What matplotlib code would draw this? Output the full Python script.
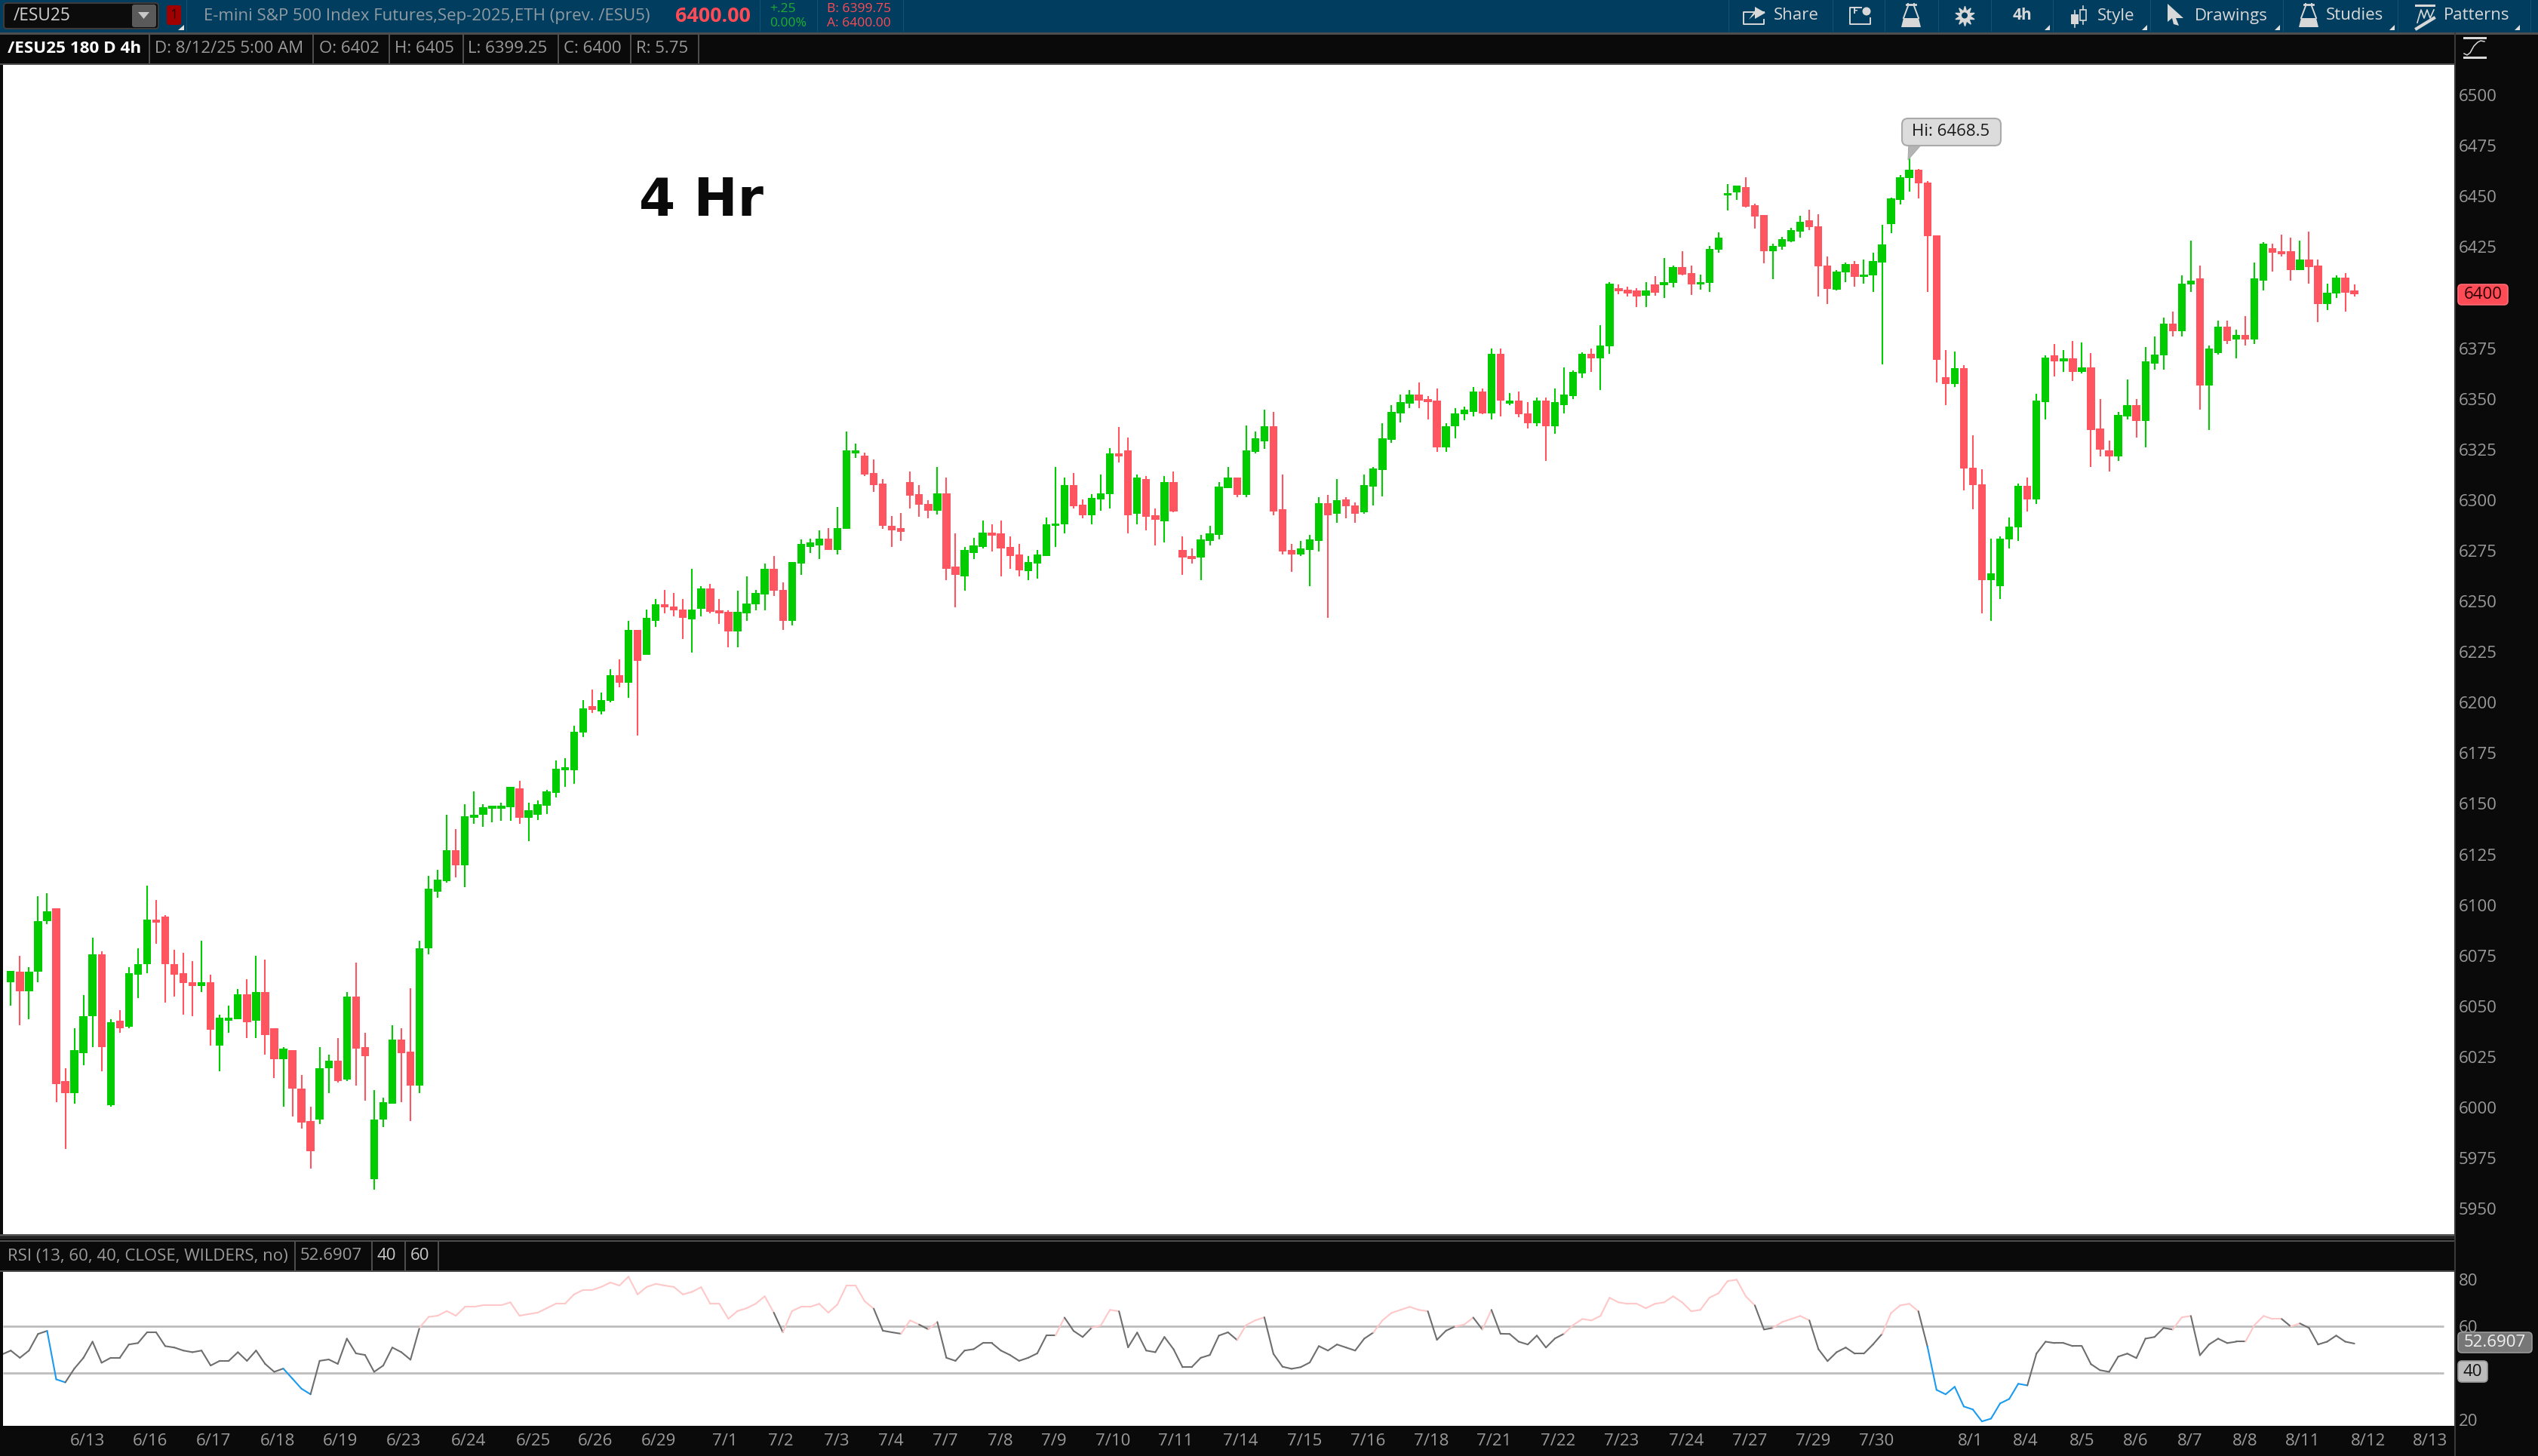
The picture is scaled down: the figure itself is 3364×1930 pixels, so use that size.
import numpy as np
import matplotlib
matplotlib.use("Agg")
import matplotlib.pyplot as plt
from matplotlib.patches import Rectangle, Polygon, FancyBboxPatch, Circle

plt.rcParams['font.family'] = ['Open Sans', 'DejaVu Sans']

W, H = 3364, 1930

opens = [
    6060.5, 6065.75, 6056, 6065.75, 6090.5, 6097, 6011.5, 6005.5, 6025.5, 6043.5,
    6074, 5999.5, 6041.25, 6038.25, 6064.25, 6069.5, 6091.25, 6092.75, 6069.5, 6065,
    6060.5, 6058.5, 6060.5, 6029.25, 6041.25, 6042, 6054.5, 6041.25, 6055.5, 6037.5,
    6022.5, 6027, 6007.75, 5992, 5992.75, 6018, 6021.75, 6012.25, 6053.25, 6028.5,
    5963, 5992.75, 6000.25, 6032.25, 6026.25, 6009.25, 6077, 6105.25, 6110.5, 6125.5,
    6118, 6141.75, 6143.25, 6146.25, 6146.25, 6147, 6156, 6141.75, 6143.25, 6147.75,
    6154, 6165, 6165, 6183.75, 6196.75, 6194, 6199.25, 6212, 6208.25, 6234.25,
    6222.25, 6238.75, 6247, 6246, 6244.5, 6239.5, 6244.75, 6255, 6244, 6243.25,
    6233.5, 6242.5, 6247, 6252, 6264.75, 6254.25, 6238.75, 6267.25, 6275.25, 6276,
    6279.5, 6273.75, 6284.25, 6321.5, 6320.5, 6311.75, 6306.5, 6285.75, 6284.75, 6307.25,
    6301.5, 6296.75, 6293.25, 6302, 6265.5, 6261, 6272.25, 6275.25, 6282.5, 6282,
    6275.25, 6271.5, 6263.5, 6267.25, 6270.75, 6285.75, 6286.5, 6305.75, 6296.25, 6291,
    6299, 6301.5, 6321.5, 6323, 6291.75, 6308.75, 6291, 6288, 6307.25, 6273.75,
    6270.75, 6270, 6278.25, 6281.25, 6304.25, 6309.5, 6301.25, 6322.25, 6327.5, 6335,
    6294, 6273.75, 6271.5, 6273.75, 6278.25, 6297, 6291.75, 6299, 6296, 6292.5,
    6305, 6313.25, 6328.25, 6341.5, 6346, 6350.5, 6348.25, 6347.5, 6324.5, 6335,
    6341, 6342.25, 6352, 6341.5, 6370.75, 6346, 6347.5, 6341.5, 6336.5, 6347.5,
    6335, 6345.25, 6349.75, 6361, 6370.75, 6368.5, 6374.5, 6403, 6402.5, 6402,
    6399.5, 6405, 6404.5, 6405.75, 6413.75, 6410.75, 6405, 6405.75, 6422, 6449,
    6450.5, 6453, 6444.25, 6439.25, 6421.25, 6423.5, 6426.25, 6431, 6436.75, 6433.75,
    6414.5, 6402.25, 6411, 6415, 6408.75, 6409.5, 6416, 6434.75, 6446.75, 6457.5,
    6461.5, 6455.25, 6429.25, 6359.25, 6355.75, 6363.75, 6314.5, 6306.25, 6259, 6256,
    6279, 6285, 6305.5, 6299, 6346.75, 6370, 6367, 6368.5, 6361.75, 6364,
    6334, 6323, 6320, 6340, 6345.25, 6337.75, 6366, 6370, 6385.5, 6381.75,
    6405, 6408, 6355, 6371.25, 6384, 6378, 6380.25, 6378, 6407, 6422.75,
    6421.25, 6421.25, 6412.25, 6417.5, 6414.5, 6395.25, 6400.5, 6408.5, 6402,
]
highs = [
    6066, 6073.25, 6068, 6103, 6104.5, 6097, 6018, 6037.5, 6054, 6082.25,
    6075.5, 6042, 6046.5, 6068, 6077, 6108.25, 6101, 6093.5, 6076.25, 6074.75,
    6071, 6080.75, 6064.25, 6044.25, 6048.75, 6057, 6062, 6073.25, 6071.75, 6037.5,
    6028.5, 6027, 6014.5, 5998.75, 6028.5, 6024.75, 6033, 6055.5, 6070.25, 6035.25,
    6007, 6003.25, 6039, 6037.5, 6057.5, 6080.75, 6112.75, 6115.75, 6143.25, 6136,
    6148.5, 6154.5, 6148.5, 6147.75, 6149.25, 6156.75, 6159.75, 6149.25, 6150, 6155.25,
    6170, 6171, 6187, 6199.75, 6205, 6203.5, 6215, 6220, 6238.75, 6234.25,
    6244.5, 6249.75, 6254.25, 6252.75, 6249.75, 6264.75, 6256, 6257.25, 6249.75, 6244,
    6253.75, 6261, 6254.25, 6267, 6270.75, 6258, 6267.75, 6279, 6279.5, 6283.5,
    6284.75, 6295.25, 6332.5, 6326.5, 6322, 6318.5, 6308.75, 6290.75, 6292.25, 6312.5,
    6305.75, 6298.5, 6314.75, 6309.5, 6282, 6275.25, 6279.75, 6288.5, 6286.5, 6288.5,
    6280.5, 6276.75, 6270.75, 6273.75, 6290, 6314.75, 6309.5, 6311.75, 6299, 6301.5,
    6311, 6324.25, 6334.75, 6329.5, 6311, 6310.25, 6294.5, 6310.25, 6312.5, 6280.5,
    6274.5, 6281.25, 6285.75, 6307.25, 6314.75, 6309.5, 6335.5, 6332.5, 6343, 6342.25,
    6311, 6276.75, 6278.25, 6281.25, 6300, 6301.25, 6308.75, 6300, 6297.5, 6311,
    6314.75, 6336.5, 6345.25, 6350.5, 6352.75, 6356.5, 6349.75, 6353.5, 6336.5, 6343.75,
    6344.5, 6354.25, 6353.5, 6373.5, 6373.5, 6351.25, 6352, 6346.75, 6349, 6349,
    6353.5, 6364, 6362.5, 6371.5, 6373.5, 6384.75, 6406, 6405, 6404, 6403,
    6406, 6409, 6418.25, 6414.5, 6421.25, 6414.5, 6410, 6424, 6430.75, 6454.5,
    6454, 6457.75, 6445, 6439.25, 6425, 6428.5, 6433, 6439, 6442, 6439.75,
    6418.75, 6412.25, 6416, 6416.5, 6417.25, 6420.5, 6434.5, 6448, 6459, 6468.5,
    6462, 6456, 6429.25, 6372.75, 6372, 6365.25, 6330.5, 6313.75, 6279.5, 6280.75,
    6290, 6306.5, 6309.5, 6351, 6370, 6375.75, 6372.75, 6377.25, 6376.5, 6371.25,
    6348.25, 6328, 6342.25, 6358, 6348.25, 6374.25, 6379.5, 6388.5, 6391.5, 6409.5,
    6426.5, 6414.5, 6375, 6387, 6387, 6382.5, 6389.25, 6416, 6425.75, 6425,
    6429.5, 6428, 6426.5, 6431, 6417.5, 6405.5, 6409.5, 6410.75, 6405,
]
lows = [
    6048.75, 6039, 6042, 6060.5, 6089, 6001, 5978, 6000.25, 6019.5, 6028.5,
    6016.5, 5998.75, 6035.25, 6037.5, 6052.5, 6065, 6079.25, 6050.25, 6053.25, 6044.25,
    6043.5, 6055.5, 6029.25, 6016.5, 6035.25, 6042, 6033, 6033, 6024.75, 6013,
    5998.75, 5994.25, 5988.25, 5968.25, 5990.5, 6005.5, 6010.75, 6011.5, 6009.25, 6001.75,
    5957.75, 5989, 6000.25, 6001, 5992, 6005.5, 6074, 6102.25, 6109.75, 6112,
    6107.5, 6138.75, 6137.25, 6139.5, 6140.25, 6140.25, 6138.75, 6130, 6140.5, 6143.5,
    6151.5, 6156.75, 6158.25, 6181.5, 6193.25, 6192.5, 6198.5, 6206, 6200.75, 6182.25,
    6222.25, 6235.75, 6242.5, 6241, 6229.75, 6223.25, 6241, 6242.5, 6237.25, 6226,
    6226, 6238.75, 6244, 6244, 6251.25, 6234.5, 6236.5, 6261.75, 6272.25, 6269.5,
    6273.75, 6271.5, 6284.25, 6319.25, 6310.25, 6302.75, 6284.25, 6275.25, 6278.25, 6294.5,
    6290.25, 6289.5, 6291.5, 6259, 6245.5, 6253.75, 6269.5, 6274.5, 6273, 6261,
    6264.75, 6261, 6259, 6259.75, 6270.75, 6275.25, 6282, 6294.5, 6289.5, 6286.5,
    6293.25, 6294.5, 6317, 6282, 6286.5, 6283.5, 6276, 6277.5, 6292.5, 6261.75,
    6267, 6259, 6276, 6279, 6304.25, 6300, 6300, 6321.5, 6323.75, 6291,
    6271.5, 6263.25, 6270.75, 6256, 6273, 6240.25, 6287.25, 6289.5, 6287.25, 6291.75,
    6296, 6300.5, 6326.75, 6337, 6343.75, 6343.75, 6338.5, 6322.25, 6322.25, 6329,
    6338, 6340, 6341, 6338.5, 6340, 6345.25, 6339.5, 6334, 6335, 6317.75,
    6331.25, 6341.5, 6348.25, 6358.75, 6361.75, 6352.75, 6370.75, 6400, 6399, 6394,
    6394, 6399.5, 6398.5, 6403.5, 6409.5, 6399.75, 6402.5, 6401.25, 6420.5, 6441.5,
    6446.75, 6443, 6432.5, 6415.5, 6407.75, 6422, 6425.75, 6428, 6431.75, 6399,
    6395.25, 6402, 6406.25, 6404, 6405.5, 6401.25, 6365.5, 6430.5, 6444.5, 6451,
    6447.5, 6401.25, 6356.5, 6345.5, 6354.25, 6303.5, 6294, 6242.5, 6238.75, 6249.75,
    6274.5, 6278.25, 6293, 6296.75, 6338.5, 6359.5, 6361.75, 6357.25, 6361, 6314.75,
    6320, 6312.5, 6317.75, 6338.5, 6329.5, 6324.5, 6363, 6363, 6379.5, 6379.5,
    6401.25, 6343, 6333.25, 6370.5, 6375.75, 6368.5, 6375, 6375.75, 6402, 6411.5,
    6419, 6407, 6412.25, 6405.5, 6386.25, 6392.25, 6398.25, 6391.5, 6399.25,
]
closes = [
    6066, 6056, 6065.75, 6090.5, 6095.5, 6010, 6005.5, 6027, 6043.5, 6074,
    6028.5, 6040.5, 6037.5, 6065, 6069.5, 6091.25, 6089.75, 6069.5, 6064.25, 6060,
    6058.5, 6060.5, 6036.75, 6042.75, 6042.75, 6054.5, 6040.5, 6055.5, 6034.5, 6022.5,
    6027.75, 6007.75, 5991.25, 5977, 6018, 6021.75, 6011.5, 6053.25, 6027.75, 6024,
    5992.75, 6001, 6032.25, 6025.5, 6009.25, 6077, 6106.75, 6111.25, 6125.5, 6118,
    6142.5, 6143.25, 6147, 6147.75, 6147.75, 6156.75, 6141.75, 6145.5, 6148.5, 6154.5,
    6165.75, 6166.5, 6184.25, 6195.5, 6194.75, 6199.75, 6212, 6208.25, 6234.25, 6219.25,
    6240.25, 6247, 6245.5, 6244, 6240.25, 6244.5, 6255, 6243.25, 6242.5, 6233.5,
    6243.25, 6247.5, 6252.75, 6264.75, 6253.75, 6238.75, 6267.75, 6276.75, 6277.5, 6279.5,
    6273.75, 6284.75, 6323, 6323, 6311, 6305.75, 6285.75, 6283.5, 6282.75, 6300.75,
    6296.25, 6293.25, 6302, 6264.75, 6261.75, 6273.75, 6276, 6282.5, 6281, 6274.5,
    6270.75, 6264, 6267.75, 6271.5, 6286.5, 6287, 6305.75, 6295.5, 6291, 6299.75,
    6302, 6321.5, 6320, 6291, 6309.5, 6290.25, 6288.75, 6307.25, 6293, 6270,
    6269.25, 6279, 6282, 6305, 6309.5, 6301.25, 6323, 6329, 6335, 6293,
    6273, 6271.5, 6274.5, 6279, 6297, 6291, 6298.5, 6295.5, 6291.75, 6305.75,
    6314, 6329, 6342.25, 6346.75, 6350.5, 6347.5, 6346.75, 6324.5, 6335, 6341.5,
    6343, 6352, 6341.5, 6370.75, 6347.5, 6347.5, 6341, 6336.5, 6347.5, 6335,
    6346.75, 6350.5, 6361.75, 6370.75, 6368.5, 6375, 6405.5, 6401.5, 6400.5, 6399,
    6402, 6401, 6406.25, 6413.75, 6410, 6405, 6406.25, 6422.5, 6428, 6450.25,
    6454, 6443.5, 6438.5, 6421.25, 6424, 6427.25, 6431.75, 6436, 6433.25, 6414,
    6402.75, 6411.5, 6415, 6408.75, 6410, 6416.5, 6424.75, 6447.5, 6457.75, 6461.5,
    6455, 6428.75, 6367.75, 6355.75, 6363.75, 6314, 6306, 6259, 6262.25, 6279.5,
    6285.5, 6305.5, 6299, 6347.5, 6369, 6367, 6368.5, 6361.75, 6364, 6333.25,
    6323.5, 6320, 6340.75, 6345.25, 6337.75, 6367, 6370.5, 6385.5, 6381.75, 6405.5,
    6407, 6355, 6373.5, 6384, 6377.25, 6380.25, 6378, 6408, 6425, 6420.5,
    6419.75, 6412.25, 6417.5, 6413.75, 6395.25, 6401, 6408.5, 6401, 6400,
]

# starts one bar before the first candle, that point is off the left edge
rsi = [
    48, 49.7, 46.6, 49.7, 56.8, 58.1, 37.4, 36.1, 42, 46.6, 53.5,
    44.5, 46.6, 46.6, 52.3, 52.9, 57.5, 57.5, 51.6, 51, 49.7,
    49, 49.7, 43.3, 45.3, 45.3, 49, 45.3, 49.7, 44, 40.6,
    42, 37.7, 33.4, 31, 45.3, 45.9, 44, 54.8, 48.5, 47.8,
    40.6, 43.3, 51, 49, 45.8, 59.5, 64.1, 64.6, 66.6, 64.6,
    68.4, 68.4, 69.1, 69.1, 69.1, 70.3, 64.6, 65.3, 65.9, 67.8,
    69.7, 69.7, 73.7, 75.6, 75.6, 76.9, 78.8, 77.5, 81.3, 73.7,
    76.9, 78.2, 77.5, 76.9, 73.7, 74.8, 76.8, 69.7, 69.7, 63.3,
    66.6, 67.8, 69.7, 72.9, 65.9, 57.5, 66.6, 68.4, 68.4, 69.7,
    65.9, 69.4, 77.5, 77.5, 70.8, 67.6, 58.2, 57.5, 56.9, 62.6,
    60.8, 58.8, 61.9, 46.6, 45.3, 49.7, 50.3, 52.9, 52.9, 49.7,
    47.8, 45.3, 46.6, 48.5, 56.1, 56.1, 63.8, 58.1, 55.5, 59.5,
    60.4, 67.1, 66.5, 51.1, 57.4, 49.7, 49, 55.5, 50.3, 42.6,
    42.6, 46.6, 47.8, 56.1, 57.5, 54.2, 60.6, 62.6, 63.9, 48.3,
    42.8, 41.9, 42.6, 44.6, 51.6, 49.7, 52.3, 51, 49.7, 54.8,
    57.4, 62.6, 65.8, 67.1, 68.4, 67.1, 66.5, 54.3, 58.2, 60,
    60.8, 63.8, 58.7, 67.1, 56.9, 56.8, 53.5, 52.3, 56.1, 51,
    54.9, 56.9, 60.6, 63.2, 62.6, 64.5, 72.3, 70.3, 69.7, 69.7,
    67.8, 69.7, 70.3, 72.9, 70.3, 66.5, 67.1, 72.3, 74.2, 79.4,
    80, 72.9, 69, 58.7, 59.4, 61.9, 63.2, 64.5, 62.6, 50.3,
    45.2, 49, 51, 48.4, 48.4, 52.3, 56.8, 65.8, 69, 69.7,
    66.5, 51.4, 32.9, 31, 34.2, 25.8, 24.5, 19.4, 20.6, 27.1,
    29, 35.5, 34.8, 48.4, 53.5, 52.9, 52.9, 51.6, 51.6, 43.9,
    41.3, 40.6, 47.1, 48.4, 46.5, 54.8, 55.5, 59.4, 58.7, 63.9,
    64.5, 47.7, 52.3, 54.8, 52.9, 53.5, 53.5, 60.6, 64.5, 63.2,
    63.2, 60, 61.3, 59.4, 52.3, 53.5, 56.1, 53.5, 52.6907,
]

date_labels = [
    '6/13', '6/16', '6/17', '6/18', '6/19', '6/23', '6/24', '6/25', '6/26', '6/29',
    '7/1', '7/2', '7/3', '7/4', '7/7', '7/8', '7/9', '7/10', '7/11', '7/14',
    '7/15', '7/16', '7/18', '7/21', '7/22', '7/23', '7/24', '7/27', '7/29', '7/30',
    '8/1', '8/4', '8/5', '8/6', '8/7', '8/8', '8/11', '8/12', '8/13',
]
date_pos = [
    8.45, 15.3, 22.3, 29.4, 36.3, 43.2, 50.4, 57.5, 64.3, 71.3,
    78.6, 84.8, 90.9, 96.9, 102.9, 108.9, 114.8, 121.3, 128.2, 135.4,
    142.4, 149.4, 156.4, 163.3, 170.3, 177.3, 184.5, 191.4, 198.4, 205.4,
    215.7, 221.8, 228, 233.9, 239.9, 246, 252.3, 259.5, 266.3,
]
price_ticks = [p for p in range(5950, 6525, 25) if p != 6400]
rsi_ticks = [20, 60, 80]

GREEN = '#00cc00'
RED = '#ff5560'
GREY_TXT = '#9a9a9a'
TOOLBAR = '#003d5e'
BLACK = '#0a0a0a'
EDGE = '#4d4d4d'
ICON = '#d8d8d8'
FS = 16

# pixel position of a candle index on the screen
BAR0, BAR_STEP = 14.3, 12.04
XLIM = ((4 - BAR0) / BAR_STEP, (3253 - BAR0) / BAR_STEP)


def px_axes(x0, y0, x1, y1):
    return fig.add_axes([x0 / W, 1 - y1 / H, (x1 - x0) / W, (y1 - y0) / H])


def screen_axes(z):
    a = fig.add_axes([0, 0, 1, 1], zorder=z)
    a.set_xlim(0, W)
    a.set_ylim(H, 0)
    a.axis('off')
    a.patch.set_alpha(0)
    return a


fig = plt.figure(figsize=(W / 100, H / 100), dpi=100, facecolor=BLACK)

# chrome in screen pixels, ui under the panels and top over them
ui = screen_axes(0)
top = screen_axes(5)


def box(x0, y0, x1, y1, color, z=1):
    ui.add_patch(Rectangle((x0, y0), x1 - x0, y1 - y0, fc=color, ec='none', zorder=z))


def label(x, y, s, color=GREY_TXT, size=FS, weight='normal', ha='left'):
    ui.text(x, y, s, color=color, fontsize=size, fontweight=weight, ha=ha, va='center')


def badge(x0, y0, x1, y1, s, fc, ec, color):
    top.add_patch(FancyBboxPatch((x0 + 4, y0 + 4), x1 - x0 - 8, y1 - y0 - 8,
                                 boxstyle='round,pad=4,rounding_size=5', fc=fc, ec=ec, lw=1.2))
    top.text((x0 + x1) / 2, (y0 + y1) / 2, s, color=color, fontsize=FS, ha='center', va='center')


box(0, 0, W, 43, TOOLBAR)
box(0, 43, W, 46, EDGE)
box(0, 84, 3253, 86, EDGE)
for x in [247, 1007, 1083, 1197, 2291, 2429, 2498, 2569, 2639, 2721, 2850, 3026, 3178, 3354]:
    box(x, 0, x + 1, 42, '#0f5473', 2)

# symbol box
ui.add_patch(FancyBboxPatch((5, 4), 205, 34, boxstyle='round,pad=0,rounding_size=4',
                            fc='#0c0c0c', ec='#3c3c3c', lw=1.5, zorder=2))
ui.add_patch(FancyBboxPatch((175, 6), 32, 30, boxstyle='round,pad=0,rounding_size=3',
                            fc='#5a5a5a', ec='none', zorder=3))
ui.add_patch(Polygon([[183, 16], [198, 16], [190.5, 25]], fc='#c8c8c8', zorder=4))
label(18, 21, '/ESU25', '#d0d0d0', 16.3)
ui.add_patch(FancyBboxPatch((221, 7), 19, 26, boxstyle='round,pad=0,rounding_size=3',
                            fc='#a00000', ec='none', zorder=2))
label(230.5, 20, '1', '#300000', 13, ha='center')
ui.add_patch(Polygon([[236, 40], [244, 40], [244, 33]], fc='#e0e0e0', zorder=2))
label(270, 21, 'E-mini S&P 500 Index Futures,Sep-2025,ETH (prev. /ESU5)', '#8f9aa2', FS)
label(895, 22, '6400.00', '#ff4b55', 19.4, 'bold')
label(1020, 12, '+.25', '#1fae2f', 12.6)
label(1020, 31, '0.00%', '#1fae2f', 12.6)
label(1096, 12, 'B: 6399.75', '#ff4b55', 12.6)
label(1096, 31, 'A: 6400.00', '#ff4b55', 12.6)

# right hand buttons
for x, s in [(2351, 'Share'), (2780, 'Style'), (2909, 'Drawings'), (3083, 'Studies'), (3239, 'Patterns')]:
    label(x, 21, s, ICON, FS)
label(2668, 21, '4h', ICON, 15, 'bold')
for x in [2716, 2845, 3021, 3173, 3339]:
    ui.add_patch(Polygon([[x - 6, 40], [x + 1, 40], [x + 1, 33]], fc='#e0e0e0', zorder=2))
# share
ui.plot([2338, 2311, 2311, 2338, 2338], [16, 16, 32, 32, 26], color=ICON, lw=1.4)
ui.add_patch(Polygon([[2318, 26], [2326, 14], [2326, 9], [2340, 17], [2326, 25], [2326, 19]], fc=ICON))
# news
ui.plot([2467, 2452, 2452, 2479, 2479], [10, 10, 32, 32, 24], color=ICON, lw=1.4)
ui.add_patch(Circle((2474, 15), 5.5, fc=ICON))
label(2456, 15, 'F', ICON, 9, 'bold')
# flasks
for cx in [2533, 3060]:
    ui.add_patch(Polygon([[cx - 13, 36], [cx + 13, 36], [cx + 10, 24], [cx - 10, 24]], fc=ICON))
    ui.plot([cx - 10, cx - 4, cx - 4], [24, 8, 5], color=ICON, lw=1.4)
    ui.plot([cx + 10, cx + 4, cx + 4], [24, 8, 5], color=ICON, lw=1.4)
    ui.plot([cx - 6, cx + 6], [6, 6], color=ICON, lw=2)
# gear
ui.plot([2604], [20.5], marker=(10, 1, 0), ms=19, mfc=ICON, mec=ICON, ls='none')
ui.add_patch(Circle((2604, 20.5), 4, fc=TOOLBAR, zorder=4))
# style candles
ui.plot([2750, 2750], [14, 36], color=ICON, lw=1.2)
ui.plot([2761, 2761], [8, 32], color=ICON, lw=1.2)
box(2745, 19, 2755, 32, ICON, 3)
ui.add_patch(Rectangle((2757, 13), 8, 14, fc=TOOLBAR, ec=ICON, lw=1.2, zorder=3))
# drawings arrow
ui.add_patch(Polygon([[2873, 5], [2894, 24], [2884, 24], [2888, 34], [2881, 32], [2879, 24], [2873, 29]], fc=ICON))
# patterns
box(3201, 6, 3228, 9, ICON)
ui.plot([3204, 3209, 3213, 3217, 3221, 3226], [30, 13, 24, 13, 24, 13], color=ICON, lw=1.2)
ui.plot([3203, 3226], [38, 24], color=ICON, lw=3)

# header strip of the price panel
label(10, 65, '/ESU25 180 D 4h', '#ffffff', 16.2, 'bold')
for x, s in [(205, 'D: 8/12/25 5:00 AM'), (423, 'O: 6402'), (523, 'H: 6405'), (620, 'L: 6399.25'),
             (747, 'C: 6400'), (843, 'R: 5.75')]:
    label(x, 65, s, GREY_TXT, FS)
for x in [197, 414, 515, 613, 739, 835, 925]:
    box(x, 46, x + 2, 84, EDGE)
# study button on the axis
box(3253, 43, 3255, 1930, '#3a3a3a')
box(3265, 49, 3296, 52, ICON)
box(3265, 75, 3296, 78, ICON)
ui.plot([3266, 3270, 3274, 3279, 3284, 3288, 3293], [71, 73, 70, 61, 56, 54, 55], color=ICON, lw=1.1)

# strip under the price panel, header of the study panel
box(0, 1636, 3253, 1639, EDGE)
box(0, 1640, 3253, 1642, '#2a2a2a')
box(0, 1644, 3253, 1646, EDGE)
box(0, 1684, 3253, 1686, EDGE)
label(10, 1665, 'RSI (13, 60, 40, CLOSE, WILDERS, no)', GREY_TXT, FS)
label(398, 1665, '52.6907', GREY_TXT, FS)
label(500, 1665, '40', '#c8c8c8', FS)
label(544, 1665, '60', '#c8c8c8', FS)
for x in [390, 492, 536, 580]:
    box(x, 1646, x + 2, 1684, EDGE)

# price panel
ax = px_axes(4, 86, 3253, 1636)
ax.set_facecolor('white')
price_y = lambda y: 6400 - (y - 390.5) / 2.684
ax.set_ylim(price_y(1636), price_y(86))
ax.set_xlim(*XLIM)
idx = np.arange(len(closes))
o, h, l, c = map(np.array, (opens, highs, lows, closes))
colors = np.where(c >= o, GREEN, RED)
ax.vlines(idx, l, h, colors=colors, lw=1.5, zorder=2)
ax.bar(idx, np.abs(c - o), bottom=np.minimum(o, c), width=0.86, color=colors, lw=0, zorder=3)
for s in ax.spines.values():
    s.set_visible(False)
ax.set_xticks([])
ax.yaxis.tick_right()
ax.set_yticks(price_ticks)
ax.tick_params(axis='y', length=0, pad=4, labelsize=FS, labelcolor=GREY_TXT)
shift = matplotlib.transforms.ScaledTranslation(0, -4 / 100, fig.dpi_scale_trans)
for t in ax.get_yticklabels():
    t.set_transform(t.get_transform() + shift)

top.text(847, 266, '4 Hr', family='DejaVu Sans', fontweight='bold', fontsize=50,
         color='#0a0a0a', va='center', ha='left')
badge(3258, 377, 3324, 404, '6400', '#ff4b55', '#ff6a72', '#2a0000')
# callout on the high
top.add_patch(Polygon([[2530, 190], [2548, 190], [2529, 212]], fc='#b4b4b4', ec='#aaaaaa', lw=0.8, zorder=2))
top.add_patch(FancyBboxPatch((2527, 163), 119, 24, boxstyle='round,pad=6,rounding_size=8',
                             fc='#dcdcdc', ec='#aaaaaa', lw=1.5, zorder=3))
top.text(2586, 175, 'Hi: 6468.5', color='#1a1a1a', fontsize=FS, ha='center', va='center', zorder=4)

# study panel
ax2 = px_axes(4, 1686, 3253, 1890)
ax2.set_facecolor('white')
rsi_y = lambda y: 60 - (y - 1758.3) / 3.1
ax2.set_ylim(rsi_y(1890), rsi_y(1686))
ax2.set_xlim(*XLIM)
for s in ax2.spines.values():
    s.set_visible(False)
ax2.hlines([40, 60], XLIM[0], 267.8, colors='#bdbdbd', lw=2, zorder=1)
rsi_x = np.arange(-1, len(closes))
for i in range(1, len(rsi)):
    v = rsi[i]
    col = '#ffc8c8' if v > 60 else ('#1a9bf0' if v < 40 else '#6e6e6e')
    ax2.plot(rsi_x[i - 1:i + 1], rsi[i - 1:i + 1], color=col, lw=1.5, zorder=2,
             solid_capstyle='round')
ax2.set_xticks(date_pos)
ax2.set_xticklabels(date_labels)
ax2.tick_params(axis='x', length=0, pad=7, labelsize=FS, labelcolor=GREY_TXT)
ax2.yaxis.tick_right()
ax2.set_yticks(rsi_ticks)
ax2.tick_params(axis='y', length=0, pad=4, labelsize=FS, labelcolor=GREY_TXT)
badge(3258, 1766, 3356, 1793, '52.6907', '#777777', '#999999', '#f0f0f0')
badge(3258, 1804, 3297, 1832, '40', '#bbbbbb', '#999999', '#111111')

fig.savefig('out.png', dpi=100, facecolor=BLACK)
